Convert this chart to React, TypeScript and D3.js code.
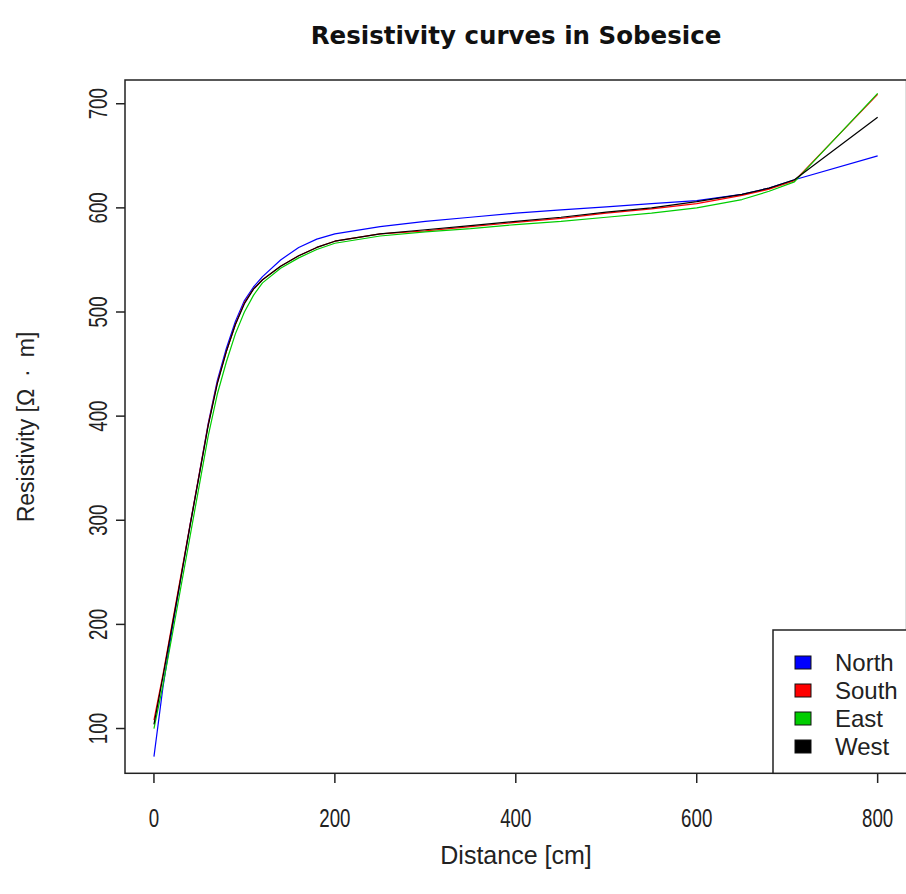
import React from "react";
import * as d3 from "d3";

const distances = [0, 10, 20, 30, 40, 50, 60, 70, 80, 90, 100, 110, 120, 140, 160, 180, 200, 250, 300, 350, 400, 450, 500, 550, 600, 650, 680, 708, 800];
const north = [73, 140, 195, 246, 296, 344, 393, 434, 465, 491, 511, 524, 534, 550, 562, 570, 575, 582, 587, 591, 595, 598, 601, 604, 607, 613, 619, 627, 650];
const south = [108, 152, 200, 248, 296, 344, 392, 432, 462, 488, 509, 522, 531, 544, 554, 562, 568, 575, 578, 582, 586, 590, 595, 599, 604, 612, 618, 626, 709];
const east = [100, 142, 189, 237, 285, 333, 381, 421, 452, 479, 500, 516, 528, 542, 552, 560, 566, 573, 577, 580, 584, 587, 591, 595, 600, 608, 616, 625, 710];
const west = [104, 150, 198, 246, 295, 343, 391, 431, 462, 488, 508, 522, 531, 544, 554, 562, 568, 575, 579, 583, 587, 591, 596, 600, 606, 613, 619, 627, 687];

const seriesNames = ["North", "South", "East", "West"];
const seriesColors = ["#0000ff", "#ff0000", "#00cd00", "#000000"];
const seriesValues = [north, south, east, west];

const xTicks = [0, 200, 400, 600, 800];
const yTicks = [100, 200, 300, 400, 500, 600, 700];

const W = 906;
const H = 894;

export default function App() {
  const x = d3.scaleLinear().domain([-32, 832]).range([125, 906.6]);
  const y = d3.scaleLinear().domain([57, 722.8]).range([773.3, 80]);
  const line = d3
    .line<[number, number]>()
    .x((d) => x(d[0]))
    .y((d) => y(d[1]))
    .curve(d3.curveLinear);

  const font = "'Liberation Sans', Arial, sans-serif";
  const axisCol = "#222";
  const txt = "#222";

  return (
    <div style={{ position: "absolute", left: 0, top: 0 }}>
      <svg width={W} height={H} style={{ display: "block", background: "#fff" }}>
        <rect x={0} y={0} width={W} height={H} fill="#fff" />
        <text
          x={516}
          y={44}
          textAnchor="middle"
          fontFamily="'DejaVu Sans', Verdana, sans-serif"
          fontWeight="bold"
          fontSize={24.5}
          fill="#111"
        >
          Resistivity curves in Sobesice
        </text>

        {seriesValues.map((vals, i) => (
          <path
            key={seriesNames[i]}
            d={line(distances.map((d, j) => [d, vals[j]] as [number, number])) || ""}
            fill="none"
            stroke={seriesColors[i]}
            strokeWidth={1.2}
            strokeLinejoin="round"
          />
        ))}

        <rect
          x={x.range()[0]}
          y={y.range()[1]}
          width={x.range()[1] - x.range()[0]}
          height={y.range()[0] - y.range()[1]}
          fill="none"
          stroke={axisCol}
          strokeWidth={1.5}
        />

        {xTicks.map((t) => (
          <g key={"x" + t}>
            <line x1={x(t)} x2={x(t)} y1={773.3} y2={783} stroke={axisCol} strokeWidth={1.5} />
            <text
              transform={`translate(${x(t)},827) scale(0.72,1)`}
              textAnchor="middle"
              fontFamily={font}
              fontSize={26}
              fill={txt}
            >
              {t}
            </text>
          </g>
        ))}
        {yTicks.map((t) => (
          <g key={"y" + t}>
            <line x1={116} x2={125} y1={y(t)} y2={y(t)} stroke={axisCol} strokeWidth={1.5} />
            <text
              transform={`translate(107,${y(t)}) rotate(-90) scale(0.72,1)`}
              textAnchor="middle"
              fontFamily={font}
              fontSize={26}
              fill={txt}
            >
              {t}
            </text>
          </g>
        ))}

        <text x={516} y={864} textAnchor="middle" fontFamily={font} fontSize={25} fill={txt}>
          Distance [cm]
        </text>
        <text
          transform={`translate(34,427) rotate(-90)`}
          textAnchor="middle"
          fontFamily={font}
          fontSize={23}
          fill={txt}
        >
          Resistivity [Ω<tspan dx={12}>·</tspan>
          <tspan dx={12}>m]</tspan>
        </text>

        <g>
          <rect x={773} y={630} width={160} height={143.3} fill="#fff" stroke={axisCol} strokeWidth={1.5} />
          {seriesNames.map((n, i) => (
            <g key={"lg" + n}>
              <rect
                x={795}
                y={656 + i * 28}
                width={16}
                height={13}
                fill={seriesColors[i]}
                stroke="#111"
                strokeWidth={1}
              />
              <text x={835} y={671 + i * 28} fontFamily={font} fontSize={24} fill={txt}>
                {n}
              </text>
            </g>
          ))}
        </g>
      </svg>
    </div>
  );
}
